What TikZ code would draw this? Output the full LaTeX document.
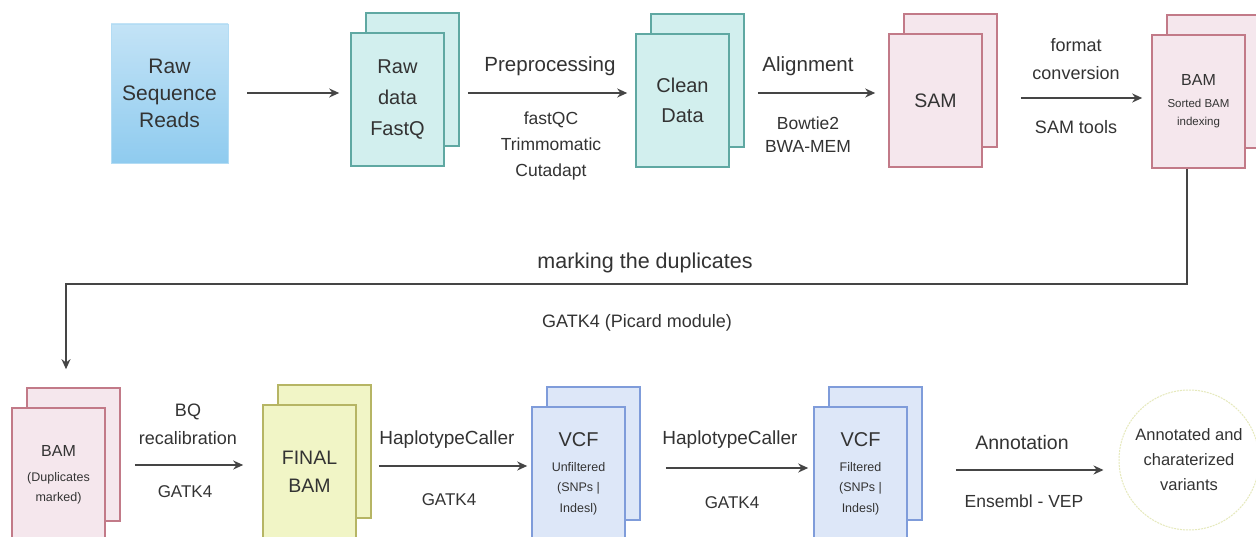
\documentclass[tikz,border=0pt]{standalone}
\usepackage{fontspec}
\setmainfont{Liberation Sans}
\usetikzlibrary{arrows.meta,calc}
\newcommand\myfs[2]{\fontsize{#1pt}{#2pt}\selectfont}
\definecolor{txt}{HTML}{333333}
\definecolor{arrc}{HTML}{454545}
\definecolor{rawtop}{HTML}{C3E3F6}
\definecolor{rawbot}{HTML}{8FCBEF}
\definecolor{tealF}{HTML}{D2EFEE}
\definecolor{tealD}{HTML}{5FA8A2}
\definecolor{pinkF}{HTML}{F5E7ED}
\definecolor{pinkD}{HTML}{C27A88}
\definecolor{yelF}{HTML}{F1F5C6}
\definecolor{yelD}{HTML}{B6B564}
\definecolor{bluF}{HTML}{DDE7F8}
\definecolor{bluD}{HTML}{7F9CDA}
\definecolor{circD}{HTML}{E6E9BC}
\tikzset{
  doc/.style={draw, line width=1.6pt, minimum width=93pt, minimum height=133pt, inner sep=0pt, align=center, text=txt},
  tealbox/.style={doc, draw=tealD, fill=tealF},
  pinkbox/.style={doc, draw=pinkD, fill=pinkF},
  yelbox/.style={doc, draw=yelD, fill=yelF},
  blubox/.style={doc, draw=bluD, fill=bluF},
  arr/.style={draw=arrc, line width=1.7pt, -{Stealth[length=10pt,width=9pt]}},
  lbl/.style={text=txt, inner sep=0pt, align=center}
}
\begin{document}
\begin{tikzpicture}[x=1pt,y=-1pt]
\useasboundingbox (0,0) rectangle (1256,537);
\clip (0,0) rectangle (1256,537);
\fill[white] (0,0) rectangle (1256,537);

% top row
\node[draw=rawtop!70!rawbot, line width=0.6pt, top color=rawtop, bottom color=rawbot, minimum width=117pt, minimum height=139pt, inner sep=0pt, align=center, text=txt, font=\myfs{21}{27}]
  (raw) at (169.5,93.5) {Raw\\Sequence\\Reads};

\node[tealbox] (fastqb) at (412.5,79.5) {};
\node[tealbox, font=\myfs{20}{31}] (fastq) at (397.5,99.5) {Raw\\data\\FastQ};

\node[tealbox] (cleanb) at (697.5,80.5) {};
\node[tealbox, font=\myfs{20}{30}] (clean) at (682.5,100.5) {Clean\\Data};

\node[pinkbox] (samb) at (950.5,80.5) {};
\node[pinkbox, font=\myfs{19.5}{24}] (sam) at (935.5,100.5) {SAM};

\node[pinkbox] (bamb) at (1213.5,81.5) {};
\node[pinkbox, font=\myfs{11.5}{18}] (bam) at (1198.5,101.5) {\myfs{16}{18}BAM\\[4pt]Sorted BAM\\indexing};

% bottom row
\node[pinkbox] (dupb) at (73.5,454.5) {};
\node[pinkbox, font=\myfs{12.5}{20}] (dup) at (58.5,474.5) {\myfs{16}{20}BAM\\[5pt](Duplicates\\marked)};

\node[yelbox] (finalb) at (324.5,451.5) {};
\node[yelbox, font=\myfs{19.5}{28}] (final) at (309.5,471.5) {FINAL\\BAM};

\node[blubox] (vcfab) at (593.5,453.5) {};
\node[blubox, font=\myfs{12.5}{20.5}] (vcfa) at (578.5,473.5) {\myfs{20}{20.5}VCF\\[4.5pt]Unfiltered\\(SNPs |\\Indesl)};

\node[blubox] (vcfbb) at (875.5,453.5) {};
\node[blubox, font=\myfs{12.5}{20.5}] (vcfb) at (860.5,473.5) {\myfs{20}{20.5}VCF\\[4.5pt]Filtered\\(SNPs |\\Indesl)};

\node[circle, draw=circD, line width=1pt, dash pattern=on 2pt off 1pt, fill=white, minimum size=140pt, inner sep=0pt, align=center, text=txt, font=\myfs{16.5}{25}]
  (circ) at (1189,460) {Annotated and\\charaterized\\variants};

% row guide coordinates
\coordinate (ya) at (0,93);
\coordinate (yb) at (0,98);

% connectors top
\draw[arr, shorten <=19pt, shorten >=11pt] (raw.east |- ya) -- (fastq.west |- ya);
\draw[arr, shorten <=8pt, shorten >=8pt] (fastqb.east |- ya) -- (clean.west |- ya);
\draw[arr, shorten <=13pt, shorten >=13pt] (cleanb.east |- ya) -- (sam.west |- ya);
\draw[arr, shorten <=23pt, shorten >=9pt] (samb.east |- yb) -- (bam.west |- yb);

% loop connector
\draw[arr, shorten >=18pt] ([xshift=-11.5pt]bam.south) -- ++(0,115) -| ([xshift=-7.5pt]dupb.north);

% connectors bottom
\coordinate (yc) at (0,465);
\coordinate (yd) at (0,466);
\coordinate (ye) at (0,468);
\coordinate (yf) at (0,470);
\draw[arr, shorten <=14pt, shorten >=19pt] (dupb.east |- yc) -- (final.west |- yc);
\draw[arr, shorten <=7pt, shorten >=4pt] (finalb.east |- yd) -- (vcfa.west |- yd);
\draw[arr, shorten <=25pt, shorten >=5pt] (vcfab.east |- ye) -- (vcfb.west |- ye);
\draw[arr, shorten <=33pt, shorten >=15pt] (vcfbb.east |- yf) -- (circ.west |- yf);

% labels top
\node[lbl, font=\myfs{20.5}{24}] (l1) at (550,66) {Preprocessing};
\node[lbl, font=\myfs{17.5}{26}] (l2) at (551,146) {fastQC\\Trimmomatic\\Cutadapt};
\node[lbl, font=\myfs{20.5}{24}] (l3) at (808,66) {Alignment};
\node[lbl, font=\myfs{17.5}{23}] (l4) at (808,135) {Bowtie2\\BWA-MEM};
\node[lbl, font=\myfs{18}{28}] (l5) at (1076,59) {format\\conversion};
\node[lbl, font=\myfs{18}{22}] (l6) at (1076,127) {SAM tools};

% loop labels
\node[lbl, font=\myfs{21.5}{24}] (l7) at (645,263) {marking the duplicates};
\node[lbl, font=\myfs{18}{22}] (l8) at (637,323) {GATK4 (Picard module)};

% labels bottom
\node[lbl, font=\myfs{18}{28}] (l9) at (188,424) {BQ\\recalibration};
\node[lbl, font=\myfs{17}{20}] (l10) at (185,492) {GATK4};
\node[lbl, font=\myfs{19}{22}] (l11) at (447,440) {HaplotypeCaller};
\node[lbl, font=\myfs{17}{20}] (l12) at (449,500) {GATK4};
\node[lbl, font=\myfs{19}{22}] (l13) at (730,440) {HaplotypeCaller};
\node[lbl, font=\myfs{17}{20}] (l14) at (732,503) {GATK4};
\node[lbl, font=\myfs{19.5}{22}] (l15) at (1022,443) {Annotation};
\node[lbl, font=\myfs{17.5}{20}] (l16) at (1024,501) {Ensembl - VEP};
\end{tikzpicture}
\end{document}
